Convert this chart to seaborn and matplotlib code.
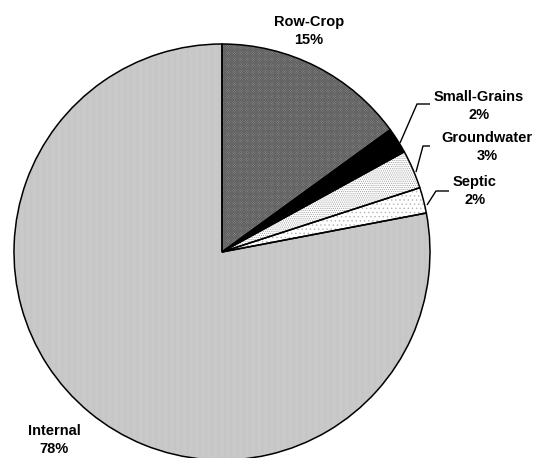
import matplotlib
matplotlib.use("Agg")
import matplotlib.pyplot as plt
import seaborn as sns

# Nutrient load sources (percent of total)
categories = ["Row-Crop", "Small-Grains", "Groundwater", "Septic", "Internal"]
values = [15, 2, 3, 2, 78]

# fill / texture per source
face_colors = ["#8c8c8c", "#000000", "#ffffff", "#ffffff", "#d2d2d2"]
hatch_colors = ["#5e5e5e", "#000000", "#9a9a9a", "#b4b4b4", "#c2c2c2"]
hatches = ["x" * 14, None, "." * 8, "." * 4, "|" * 14]

sns.set_theme(style="white")
plt.rcParams["font.family"] = ["Liberation Sans", "DejaVu Sans"]
plt.rcParams["hatch.linewidth"] = 0.5

W, H = 538, 458
fig = plt.figure(figsize=(W / 100, H / 100), dpi=100)
ax = fig.add_axes([0, 0, 1, 1])


def px(x, y):
    """Pixel position (from the top-left corner) to data coordinates."""
    return x, H - y


cx, cy = px(222, 252)
r = 208

# textured fills (hatch colour follows the edge colour)
wedges, _ = ax.pie(values, startangle=90, counterclock=False,
                   center=(cx, cy), radius=r, frame=True)
for w, fc, hc, h in zip(wedges, face_colors, hatch_colors, hatches):
    w.set_facecolor(fc)
    w.set_edgecolor(hc)
    w.set_linewidth(0)
    if h:
        w.set_hatch(h)

# outlines on top
ax.pie(values, startangle=90, counterclock=False,
       center=(cx, cy), radius=r, frame=True,
       wedgeprops=dict(fill=False, edgecolor="black", linewidth=1.1))
ax.set_xlim(0, W)
ax.set_ylim(0, H)
ax.set_aspect("equal")
ax.axis("off")

labels = [f"{c}\n{v}%" for c, v in zip(categories, values)]
label_pos = [(309, 31), (479, 106), (487, 147), (475, 191), (54, 440)]
for (x, y), lab in zip(label_pos, labels):
    ax.text(*px(x, y), lab, ha="center", va="center", fontsize=10.5,
            fontweight="bold", linespacing=1.4, color="black")

# leader lines for the thin slices
leaders = [
    [(400, 143), (417, 104), (430, 104)],
    [(416, 172), (423, 146), (430, 146)],
    [(427, 205), (436, 191), (449, 191)],
]
for pts in leaders:
    xs, ys = zip(*[px(x, y) for x, y in pts])
    ax.plot(xs, ys, color="black", linewidth=1.0, solid_capstyle="butt")

fig.savefig("out.png", dpi=100)
